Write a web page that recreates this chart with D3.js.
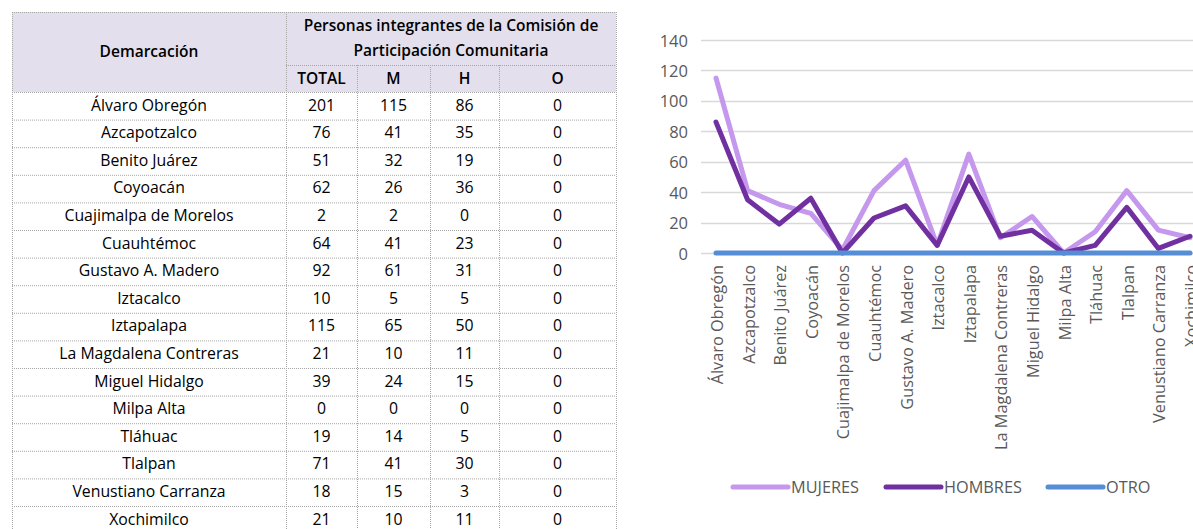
<!DOCTYPE html>
<html>
<head>
<meta charset="utf-8">
<script src="https://cdn.jsdelivr.net/npm/d3@7"></script>
<style>
  body { margin: 0; background: #fff; overflow: hidden; }
  svg { display: block; font-family: "Open Sans", "Liberation Sans", sans-serif; }
</style>
</head>
<body>
<div id="chart"></div>
<script>
const districts = ["Álvaro Obregón", "Azcapotzalco", "Benito Juárez", "Coyoacán",
  "Cuajimalpa de Morelos", "Cuauhtémoc", "Gustavo A. Madero", "Iztacalco", "Iztapalapa",
  "La Magdalena Contreras", "Miguel Hidalgo", "Milpa Alta", "Tláhuac", "Tlalpan",
  "Venustiano Carranza", "Xochimilco"];
const totals  = [201, 76, 51, 62, 2, 64, 92, 10, 115, 21, 39, 0, 19, 71, 18, 21];
const mujeres = [115, 41, 32, 26, 2, 41, 61, 5, 65, 10, 24, 0, 14, 41, 15, 10];
const hombres = [86, 35, 19, 36, 0, 23, 31, 5, 50, 11, 15, 0, 5, 30, 3, 11];
const otro    = [0, 0, 0, 0, 0, 0, 0, 0, 0, 0, 0, 0, 0, 0, 0, 0];
const yTicks = [0, 20, 40, 60, 80, 100, 120, 140];
const seriesNames = ["MUJERES", "HOMBRES", "OTRO"];
const seriesColors = ["#c597ed", "#7030a0", "#558ed5"];

const W = 1193, H = 529;
const svg = d3.select("#chart").append("svg").attr("width", W).attr("height", H);

// ---------- table ----------
const tbl = svg.append("g").attr("class", "table");
const colX = [12, 286, 357, 430, 499, 616];
const headTop = 12, head1 = 65, head2 = 92, rowH = 27.6;
const rowY = i => head2 + i * rowH;
const border = "#a6a6a6";

tbl.append("rect").attr("x", colX[0]).attr("y", headTop)
  .attr("width", colX[5] - colX[0]).attr("height", head2 - headTop)
  .attr("fill", "#e4dfec");

const dotted = (x1, y1, x2, y2) => tbl.append("line")
  .attr("x1", x1).attr("y1", y1).attr("x2", x2).attr("y2", y2)
  .attr("stroke", border).attr("stroke-width", 1).attr("stroke-dasharray", "1,1");

const bottom = rowY(districts.length);
dotted(colX[0], headTop + 0.5, colX[5], headTop + 0.5);
dotted(colX[1], head1 + 0.5, colX[5], head1 + 0.5);
districts.forEach((d, i) => dotted(colX[0], rowY(i) + 0.5, colX[5], rowY(i) + 0.5));
dotted(colX[0] + 0.5, headTop, colX[0] + 0.5, bottom);
dotted(colX[1] + 0.5, headTop, colX[1] + 0.5, bottom);
[2, 3, 4].forEach(c => dotted(colX[c] + 0.5, head1, colX[c] + 0.5, bottom));
dotted(colX[5] + 0.5, headTop, colX[5] + 0.5, bottom);

const mid = (a, b) => (colX[a] + colX[b]) / 2;
const headText = (x, y, t) => tbl.append("text").attr("x", x).attr("y", y)
  .attr("text-anchor", "middle").attr("dominant-baseline", "central")
  .attr("font-size", 15.5).attr("font-weight", 600).attr("fill", "#000").text(t);
headText(mid(0, 1), 51, "Demarcación");
headText(mid(1, 5), 25, "Personas integrantes de la Comisión de");
headText(mid(1, 5), 50, "Participación Comunitaria");
["TOTAL", "M", "H", "O"].forEach((t, c) => headText(mid(c + 1, c + 2), 78, t));

const cols = [districts, totals, mujeres, hombres, otro];
cols.forEach((arr, c) => {
  tbl.append("g").selectAll("text").data(arr).join("text")
    .attr("x", mid(c, c + 1))
    .attr("y", (d, i) => rowY(i) + 12.5)
    .attr("text-anchor", "middle").attr("dominant-baseline", "central")
    .attr("font-size", 15.8).attr("fill", "#000")
    .text(d => d);
});

// ---------- line chart ----------
const ch = svg.append("g").attr("class", "linechart");
const x = d3.scalePoint().domain(districts).range([716, 1190]);
const y = d3.scaleLinear().domain([0, 140]).range([253, 40]);

ch.append("g").selectAll("line").data(yTicks).join("line")
  .attr("x1", 701).attr("x2", W)
  .attr("y1", d => Math.round(y(d)) + 0.5).attr("y2", d => Math.round(y(d)) + 0.5)
  .attr("stroke", "#d9d9d9").attr("stroke-width", 1.5);

ch.append("g").selectAll("text").data(yTicks).join("text")
  .attr("x", 688).attr("y", d => y(d))
  .attr("text-anchor", "end").attr("dominant-baseline", "central")
  .attr("font-size", 16.5).attr("fill", "#595959").text(d => d);

ch.append("g").selectAll("text").data(districts).join("text")
  .attr("transform", d => `translate(${x(d) + 1},265) rotate(-90)`)
  .attr("text-anchor", "end").attr("dominant-baseline", "central")
  .attr("font-size", 16.3).attr("fill", "#595959").text(d => d);

const line = d3.line().x((d, i) => x(districts[i])).y(d => y(d));
[mujeres, hombres, otro].forEach((vals, k) => {
  ch.append("path").datum(vals).attr("d", line)
    .attr("fill", "none").attr("stroke", seriesColors[k])
    .attr("stroke-width", 5).attr("stroke-linecap", "round").attr("stroke-linejoin", "round");
});

// legend
const legX = [733, 886, 1048];
const leg = ch.append("g").selectAll("g").data(seriesNames).join("g")
  .attr("transform", (d, i) => `translate(${legX[i]},487)`);
leg.append("line").attr("x1", 0).attr("x2", 55).attr("y1", 0).attr("y2", 0)
  .attr("stroke", (d, i) => seriesColors[i]).attr("stroke-width", 5).attr("stroke-linecap", "round");
leg.append("text").attr("x", 58).attr("y", 0).attr("dominant-baseline", "central")
  .attr("font-size", 16.3).attr("fill", "#595959").text(d => d);
</script>
</body>
</html>
